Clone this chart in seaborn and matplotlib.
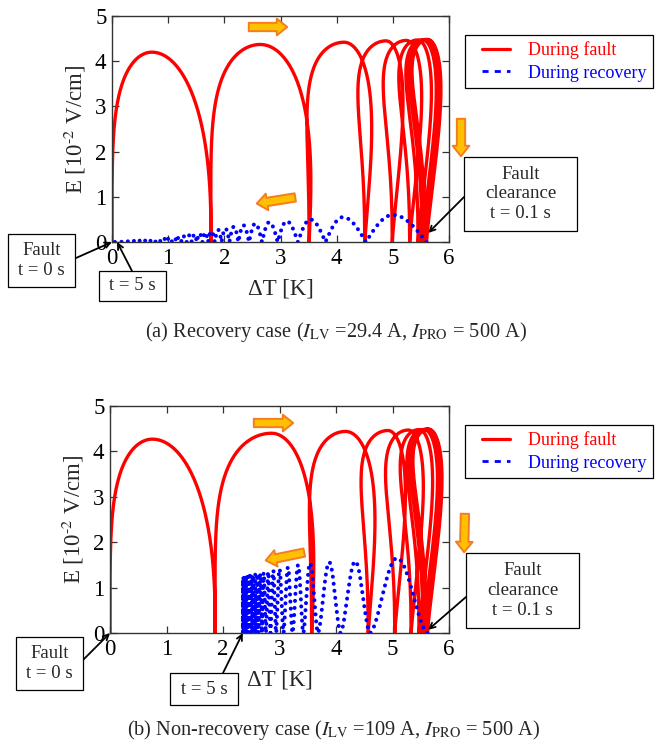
import numpy as np
import matplotlib
matplotlib.use("Agg")
import matplotlib.pyplot as plt
from matplotlib.lines import Line2D
from matplotlib.patches import FancyArrowPatch, Rectangle
from matplotlib.legend_handler import HandlerLine2D
import seaborn as sns

# ---------------- data ----------------
x_ticks = [0, 1, 2, 3, 4, 5, 6]
y_ticks = [0, 1, 2, 3, 4, 5]
x_label = "ΔT [K]"
y_label = r"E [10$^{\text{-2}}$ V/cm]"
legend_labels = ["During fault", "During recovery"]
callout_texts = ["Fault\nt = 0 s", "t = 5 s", "Fault\nclearance\nt = 0.1 s"]

# (a) recovery case: fault half-cycles (zero crossings, crest position, crest height, loop bulge at each zero)
fault_zero_a = [0.00, 1.76, 3.51, 4.50, 4.99, 5.30, 5.45, 5.52, 5.56, 5.58, 5.60]
fault_crest_x_a = [0.71, 2.64, 4.13, 4.88, 5.24, 5.44, 5.53, 5.58, 5.61, 5.62]
fault_crest_e_a = [4.20, 4.37, 4.42, 4.45, 4.46, 4.47, 4.47, 4.48, 4.48, 4.48]
fault_bulge_a = [0.00, 0.02, 0.12, 0.20, 0.22, 0.23, 0.24, 0.25, 0.25, 0.25, 0.25]

# (a) recovery path (travels toward lower ΔT)
rec_zero_a = [5.60, 4.52, 3.80, 3.31, 2.95, 2.67, 2.44, 2.25, 2.09, 1.95, 1.83, 1.71,
              1.61, 1.51, 1.42, 1.33, 1.24, 1.15, 1.06, 0.97, 0.87, 0.77, 0.67, 0.57,
              0.47, 0.37, 0.27, 0.17, 0.05]
rec_crest_x_a = [5.00, 4.11, 3.53, 3.11, 2.80, 2.55, 2.34, 2.17, 2.02, 1.89, 1.77, 1.66,
                 1.56, 1.47, 1.38, 1.29, 1.20, 1.11, 1.02, 0.92, 0.82, 0.72, 0.62, 0.52,
                 0.42, 0.32, 0.22, 0.12]
rec_crest_e_a = [0.60, 0.55, 0.50, 0.46, 0.44, 0.41, 0.37, 0.34, 0.30, 0.27, 0.24, 0.21,
                 0.19, 0.17, 0.15, 0.13, 0.12, 0.10, 0.09, 0.08, 0.07, 0.06, 0.05, 0.045,
                 0.04, 0.035, 0.03, 0.025]

# (b) non-recovery case
fault_zero_b = [0.00, 1.86, 3.57, 4.57, 5.04, 5.33, 5.47, 5.54, 5.58, 5.60, 5.62]
fault_crest_x_b = [0.75, 2.86, 4.17, 4.92, 5.28, 5.47, 5.56, 5.60, 5.63, 5.64]
fault_crest_e_b = [4.27, 4.40, 4.44, 4.46, 4.47, 4.48, 4.48, 4.49, 4.49, 4.49]
fault_bulge_b = [0.00, 0.02, 0.12, 0.20, 0.22, 0.23, 0.24, 0.25, 0.25, 0.25, 0.25]

rec_zero_b = [5.62, 4.60, 4.08, 3.68, 3.42, 3.23, 3.07, 2.94, 2.84, 2.76, 2.69, 2.63,
              2.59, 2.55, 2.515, 2.485, 2.46, 2.44, 2.42, 2.405, 2.395, 2.385, 2.375,
              2.365, 2.357, 2.35]
rec_crest_x_b = [5.08, 4.34, 3.88, 3.54, 3.33, 3.15, 3.00, 2.89, 2.80, 2.72, 2.66, 2.61,
                 2.57, 2.53, 2.50, 2.47, 2.45, 2.43, 2.41, 2.40, 2.39, 2.38, 2.37, 2.36,
                 2.355]
rec_crest_e_b = [1.65, 1.58, 1.56, 1.54, 1.50, 1.45, 1.41, 1.38, 1.35, 1.33, 1.31, 1.30,
                 1.29, 1.28, 1.27, 1.26, 1.25, 1.24, 1.23, 1.23, 1.22, 1.22, 1.21, 1.21,
                 1.20]

captions = [r"(a) Recovery case ($I_{\mathrm{LV}}$ =29.4 A, $I_{\mathrm{PRO}}$ = 500 A)",
            r"(b) Non-recovery case ($I_{\mathrm{LV}}$ =109 A, $I_{\mathrm{PRO}}$ = 500 A)"]


# ---------------- path builders ----------------
def fault_path(zeros, crest_x, crest_e, bulge, n=240):
    xs, ys = [], []
    th = np.linspace(0, np.pi, n)
    s, c, s2 = np.sin(th), np.cos(th), np.sin(2 * th)
    rising = th <= np.pi / 2
    for i in range(len(crest_x)):
        b0, b1, xp, h = zeros[i], zeros[i + 1], crest_x[i], crest_e[i]
        x = np.where(rising, xp - (xp - b0) * c - bulge[i] * s2,
                     xp - (b1 - xp) * c - bulge[i + 1] * s2)
        y = h * np.where(rising, s ** 0.45, s ** 0.85)
        start = 0 if i == 0 else 1
        xs.append(x[start:])
        ys.append(y[start:])
    return np.concatenate(xs), np.concatenate(ys)


def recovery_path(zeros, crest_x, crest_e, q, n=80):
    xs, ys = [], []
    th = np.linspace(0, np.pi, n)
    half = np.pi / 2
    for i in range(len(crest_x)):
        b0, b1, xp, h = zeros[i], zeros[i + 1], crest_x[i], crest_e[i]
        x = np.where(th <= half, b0 + (xp - b0) * th / half,
                     xp + (b1 - xp) * (th - half) / half)
        y = h * np.sin(th) ** q
        start = 0 if i == 0 else 1
        xs.append(x[start:])
        ys.append(y[start:])
    return np.concatenate(xs), np.concatenate(ys)


# ---------------- style ----------------
sns.set_style("ticks")
plt.rcParams["font.family"] = ["Liberation Serif", "DejaVu Serif"]
plt.rcParams["mathtext.fontset"] = "stix"
plt.rcParams["axes.edgecolor"] = "#333333"
plt.rcParams["axes.linewidth"] = 1.0

W, H = 657, 749
fig = plt.figure(figsize=(W / 100, H / 100), dpi=100)


def fpos(px, py):
    return (px / W, 1 - py / H)


RED = "#ff0000"
BLUE = "#0000ff"
DOTS = (0, (0.01, 1.75))
FS = 16.5

# callouts: (box left, top, right, bottom in px), arrow start (px), arrow tip (data)
panels = [
    dict(rect=[112 / W, 1 - 242 / H, 337 / W, 226 / H],
         fault=(fault_zero_a, fault_crest_x_a, fault_crest_e_a, fault_bulge_a),
         rec=(rec_zero_a, rec_crest_x_a, rec_crest_e_a, 1.0),
         legend_top=35,
         callouts=[((8, 234, 75, 287), (76, 258), (0.0, 0.0)),
                   ((99, 271, 166, 301), (132, 271), (0.09, 0.0)),
                   ((464, 157, 577, 231), (464, 197), (5.63, 0.2))],
         caption=(336, 332),
         arrows=[((246, 27), (290, 27)), ((298, 197), (254, 204)), ((461, 116), (461, 159))]),
    dict(rect=[110 / W, 1 - 633 / H, 339 / W, 227 / H],
         fault=(fault_zero_b, fault_crest_x_b, fault_crest_e_b, fault_bulge_b),
         rec=(rec_zero_b, rec_crest_x_b, rec_crest_e_b, 1.7),
         legend_top=425,
         callouts=[((16, 637, 83, 690), (83, 660), (0.0, 0.0)),
                   ((170, 673, 238, 705), (223, 673), (2.35, 0.0)),
                   ((466, 553, 579, 628), (466, 597), (5.63, 0.07))],
         caption=(334, 730),
         arrows=[((251, 423), (296, 423)), ((307, 552), (263, 561)), ((465, 511), (464, 555))]),
]

arrow_kw = dict(arrowstyle="->", color="black", lw=1.3, shrinkA=0, shrinkB=0)

for k, p in enumerate(panels):
    ax = fig.add_axes(p["rect"])
    fx, fy = fault_path(*p["fault"])
    rz, rcx, rce, q = p["rec"]
    rx, ry = recovery_path(rz, rcx, rce, q)

    sns.lineplot(x=fx, y=fy, sort=False, estimator=None, color=RED, linewidth=2.4,
                 ax=ax, legend=False)
    sns.lineplot(x=rx, y=ry, sort=False, estimator=None, color=BLUE, linewidth=2.9,
                 linestyle=DOTS, dash_capstyle="round", ax=ax, legend=False)

    ax.set_xlim(x_ticks[0], x_ticks[-1])
    ax.set_ylim(y_ticks[0], y_ticks[-1])
    ax.set_xticks(x_ticks)
    ax.set_yticks(y_ticks)
    ax.tick_params(direction="in", top=True, right=True, length=5, width=0.9,
                   labelsize=FS, colors="#333333", labelcolor="black", pad=4)
    ax.set_xlabel(x_label, fontsize=FS, labelpad=7)
    ax.set_ylabel(y_label, fontsize=FS, labelpad=5)
    for sp in ax.spines.values():
        sp.set_visible(True)

    handles = [Line2D([], [], color=RED, lw=2.3),
               Line2D([], [], color=BLUE, lw=2.0, linestyle=(0, (2.2, 2.2)))]
    leg = ax.legend(handles, legend_labels, loc="upper left",
                    bbox_to_anchor=fpos(465, p["legend_top"]), bbox_transform=fig.transFigure,
                    borderaxespad=0, fontsize=13, frameon=True, fancybox=False,
                    edgecolor="black", framealpha=1, borderpad=0.35, labelspacing=0.3,
                    handlelength=2.15, handletextpad=1.0,
                    handler_map={Line2D: HandlerLine2D(xpad=0.6)})
    leg.get_frame().set_linewidth(0.9)
    for t, col in zip(leg.get_texts(), [RED, BLUE]):
        t.set_color(col)

    # callout boxes with leader arrows
    for text, ((l, t, r, b), start, tip) in zip(callout_texts, p["callouts"]):
        x0, y0 = fpos(l, b)
        x1, y1 = fpos(r, t)
        fig.add_artist(Rectangle((x0, y0), x1 - x0, y1 - y0, transform=fig.transFigure,
                                 fc="white", ec="black", lw=0.9, zorder=5))
        fig.text((x0 + x1) / 2, (y0 + y1) / 2, text, ha="center", va="center",
                 fontsize=13.5, linespacing=1.2, zorder=6)
        ax.annotate("", xy=tip, xycoords="data", xytext=fpos(*start),
                    textcoords="figure fraction", arrowprops=arrow_kw,
                    annotation_clip=False)

    # direction arrows
    for a, b in p["arrows"]:
        fig.add_artist(FancyArrowPatch(fpos(*a), fpos(*b), transform=fig.transFigure,
                                       arrowstyle="simple,head_length=7.5,head_width=12,tail_width=6",
                                       mutation_scale=1, fc="#ffc000", ec="#f57c1f", lw=1.4,
                                       zorder=10))

    cxp, cyp = p["caption"]
    fig.text(*fpos(cxp, cyp), captions[k], ha="center", va="center", fontsize=14.7)

fig.savefig("out.png", dpi=100)
